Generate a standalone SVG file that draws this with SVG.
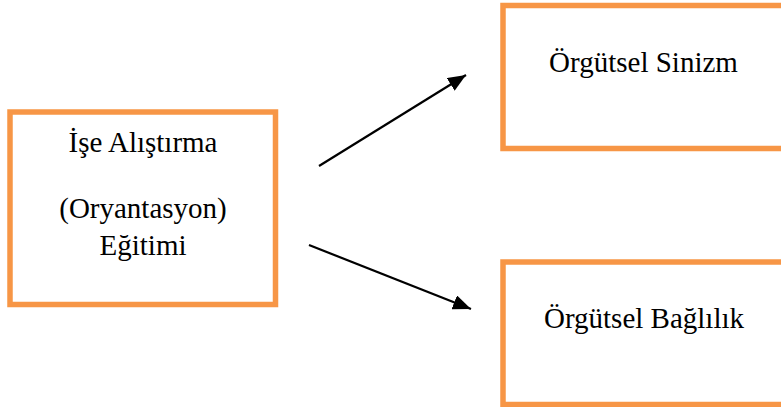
<svg xmlns="http://www.w3.org/2000/svg" width="781" height="407" viewBox="0 0 781 407">
<style>
.box{fill:#fff;stroke:#F79646;stroke-width:5.5}
.t{font-family:"Liberation Serif","Times New Roman",serif;font-size:29px;fill:#000;text-anchor:middle}
.c{stroke:#000;stroke-width:2.2;fill:none}
</style>
<defs>
<marker id="ah" markerUnits="userSpaceOnUse" markerWidth="18" markerHeight="15" refX="18" refY="7.5" orient="auto">
<path d="M0,0 L18,7.5 L0,15 Z" fill="#000"/>
</marker>
</defs>
<rect width="781" height="407" fill="#fff"/>
<g id="node-ise">
<rect class="box" x="10" y="112" width="265.5" height="192.5"/>
<text class="t" x="143" y="152">İşe Alıştırma</text>
<text class="t" x="143" y="218">(Oryantasyon)</text>
<text class="t" x="143" y="255">Eğitimi</text>
</g>
<g id="node-sinizm">
<rect class="box" x="503" y="5.5" width="290" height="143"/>
<text class="t" x="643.5" y="72">Örgütsel Sinizm</text>
</g>
<g id="node-baglilik">
<rect class="box" x="503" y="262" width="290" height="142.5"/>
<text class="t" x="644" y="328">Örgütsel Bağlılık</text>
</g>
<g id="connectors">
<line class="c" x1="319" y1="166" x2="466" y2="75" marker-end="url(#ah)"/>
<line class="c" x1="309" y1="245" x2="471" y2="309" marker-end="url(#ah)"/>
</g>
</svg>
